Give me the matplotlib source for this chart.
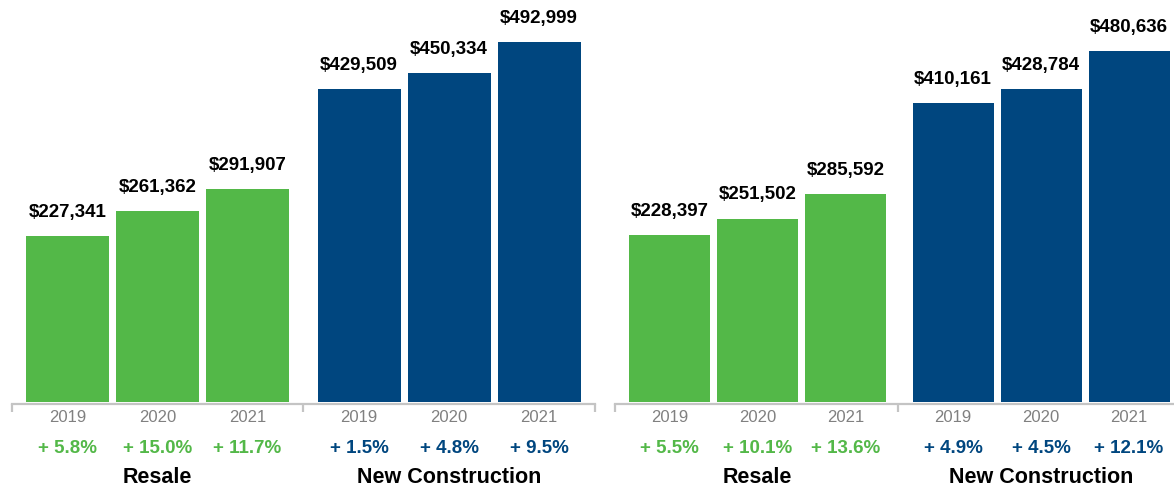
import matplotlib.pyplot as plt
from matplotlib.transforms import blended_transform_factory

# Median price data by year
years = ["2019", "2020", "2021"]
groups = ["Resale", "New Construction"]

left_resale = [227341, 261362, 291907]
left_new = [429509, 450334, 492999]
left_resale_chg = [5.8, 15.0, 11.7]
left_new_chg = [1.5, 4.8, 9.5]

right_resale = [228397, 251502, 285592]
right_new = [410161, 428784, 480636]
right_resale_chg = [5.5, 10.1, 13.6]
right_new_chg = [4.9, 4.5, 12.1]

GREEN = "#53b848"
BLUE = "#00467f"
AXIS_GRAY = "#c4c4c4"
YEAR_GRAY = "#808080"
FONT = "Liberation Sans"

plt.rcParams["font.family"] = [FONT, "DejaVu Sans"]

W, H = 1174, 490
fig = plt.figure(figsize=(W / 100, H / 100), dpi=100)

BASE_PX = 402   # baseline of the bars, pixels from top
YMAX = 551000


def panel(left_px, right_px, resale, new, rchg, nchg, shift, xlim, mid, end_tick):
    ax = fig.add_axes([left_px / W, (H - BASE_PX) / H,
                       (right_px - left_px) / W, BASE_PX / H])
    ax.set_xlim(*xlim)
    ax.set_ylim(0, YMAX)

    pos_r = [0, 1, 2]
    pos_n = [p + shift for p in pos_r]
    width = 0.92
    ax.bar(pos_r, resale, width=width, color=GREEN, linewidth=0)
    ax.bar(pos_n, new, width=width, color=BLUE, linewidth=0)

    # value labels above bars
    for x, v in zip(pos_r + pos_n, resale + new):
        ax.annotate(f"${v:,}", xy=(x, v), xytext=(0, 17),
                    textcoords="offset points", ha="center", va="center",
                    fontsize=13.5, fontweight="bold", color="black")

    trans = blended_transform_factory(ax.transData, fig.transFigure)
    for xs, chg, col in ((pos_r, rchg, GREEN), (pos_n, nchg, BLUE)):
        for x, yr, c in zip(xs, years, chg):
            ax.text(x, 1 - 417 / H, yr, transform=trans, ha="center",
                    va="center", fontsize=12, color=YEAR_GRAY)
            ax.text(x, 1 - 448 / H, f"+ {c:.1f}%", transform=trans,
                    ha="center", va="center", fontsize=13.5,
                    fontweight="bold", color=col)
    for xs, g in ((pos_r, groups[0]), (pos_n, groups[1])):
        ax.text(sum(xs) / len(xs), 1 - 477 / H, g, transform=trans,
                ha="center", va="center", fontsize=15.5,
                fontweight="bold", color="black")

    # axis line with bracket ticks
    for s in ("top", "right", "left"):
        ax.spines[s].set_visible(False)
    ax.spines["bottom"].set_position(("outward", 1.5))
    ax.spines["bottom"].set_color(AXIS_GRAY)
    ax.spines["bottom"].set_linewidth(1.6)
    ax.set_yticks([])
    ax.set_xticks([])
    ticks = [xlim[0], mid] + ([xlim[1]] if end_tick else [])
    ax.set_xticks(ticks, minor=True)
    ax.tick_params(axis="x", which="minor", direction="out", length=5.5,
                   width=1.6, color=AXIS_GRAY, labelbottom=False)
    ax.patch.set_visible(False)
    return ax


panel(12, 595, left_resale, left_new, left_resale_chg, left_new_chg,
      shift=3.24, xlim=(-0.617, 5.861), mid=2.617, end_tick=True)
panel(615, 1174, right_resale, right_new, right_resale_chg, right_new_chg,
      shift=3.22, xlim=(-0.62, 5.73), mid=2.597, end_tick=False)

fig.savefig("out.png", dpi=100, facecolor="white")
